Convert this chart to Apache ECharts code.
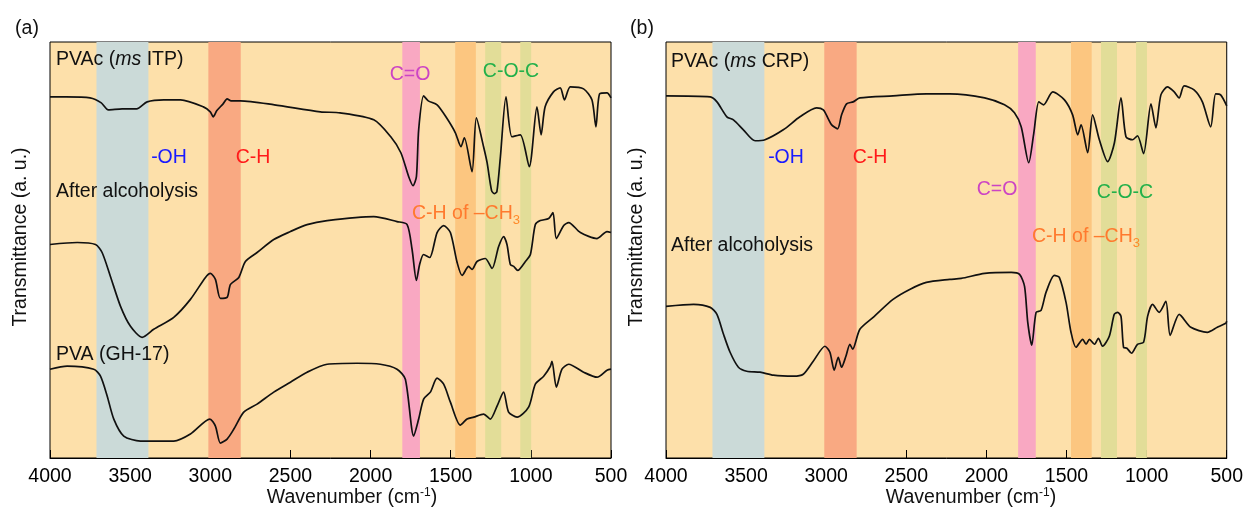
<!DOCTYPE html>
<html>
<head>
<meta charset="utf-8">
<script src="https://cdn.jsdelivr.net/npm/echarts@6/dist/echarts.min.js"></script>
<style>
html,body{margin:0;padding:0;background:#fff;}
#chart{width:1246px;height:509px;}
</style>
</head>
<body>
<div id="chart"></div>
<script>
// 吸收带范围 (cm-1)
var bandFrom = [3710, 3012, 1802, 1472, 1285, 1066];
var bandTo = [3386, 2810, 1692, 1343, 1185, 998];

// (a) PVAc (ms ITP)
var itpPVAc = [[4000,362],[3900,362],[3750,361],[3680,356],[3636,349],[3550,350],[3460,350],[3394,357],
    [3290,359],[3185,359],[3043,352],[3000,347],[2982,342],[2960,348],[2920,355],[2895,360],[2870,358],
    [2812,358],[2600,354],[2313,347],[2190,346],[1980,339],[1874,322],[1811,306],[1762,282],[1735,273],
    [1714,282],[1700,329],[1669,363],[1640,358],[1585,354],[1530,342],[1471,326],[1436,312],[1415,321],
    [1367,287],[1340,341],[1295,312],[1273,296],[1245,268],[1228,265],[1212,267],[1190,302],[1155,362],
    [1118,322],[1066,324],[1010,292],[962,352],[936,324],[911,352],[859,367],[817,371],[790,359],[754,372],
    [671,370],[619,359],[594,332],[571,365],[525,366],[500,361]];
// (a) After alcoholysis
var itpAlc = [[4000,214],[3830,216],[3716,214],[3675,206],[3623,182],[3560,152],[3498,132],[3425,121],
    [3353,129],[3228,141],[3124,159],[3030,181],[2999,185],[2968,179],[2937,160],[2895,161],[2874,174],
    [2822,181],[2781,197],[2708,206],[2604,219],[2500,227],[2396,234],[2271,238],[1980,242],[1835,237],
    [1772,234],[1741,209],[1714,178],[1694,194],[1669,204],[1631,201],[1585,226],[1544,233],[1502,226],
    [1460,196],[1429,183],[1388,192],[1367,189],[1336,197],[1284,200],[1242,190],[1201,212],[1170,222],
    [1149,214],[1128,194],[1107,192],[1082,188],[1034,197],[1003,204],[972,234],[941,238],[889,240],
    [862,246],[841,220],[795,233],[764,236],[691,226],[587,220],[525,227],[500,226]];
// (a) PVA (GH-17)
var pvaGH17 = [[4000,89],[3893,92],[3727,89],[3685,82],[3643,62],[3602,39],[3540,22],[3436,17],
    [3228,17],[3124,24],[3003,39],[2968,32],[2937,15],[2895,19],[2853,29],[2791,46],[2708,54],[2604,66],
    [2500,76],[2396,86],[2271,94],[2084,95],[1939,94],[1835,89],[1783,79],[1731,22],[1700,39],[1669,59],
    [1627,66],[1585,80],[1544,74],[1502,56],[1440,33],[1398,39],[1356,41],[1295,44],[1253,39],[1211,52],
    [1170,66],[1139,46],[1086,41],[1014,51],[972,74],[920,82],[878,92],[868,97],[841,71],[806,89],
    [764,94],[671,86],[587,81],[525,88],[500,89]];
// (b) PVAc (ms CRP)
var crpPVAc = [[4000,363],[3724,362],[3682,357],[3620,342],[3579,339],[3517,329],[3444,318],[3382,319],
    [3268,329],[3164,342],[3060,351],[3018,349],[2987,340],[2966,334],[2929,330],[2904,344],[2873,355],
    [2832,357],[2790,361],[2583,363],[2375,365],[2229,365],[2011,361],[1887,354],[1825,346],[1783,332],
    [1736,296],[1704,326],[1673,357],[1644,354],[1586,367],[1513,359],[1462,344],[1430,324],[1409,334],
    [1368,306],[1337,344],[1295,319],[1243,297],[1201,316],[1160,361],[1129,322],[1088,319],[1057,323],
    [1019,305],[973,355],[942,331],[911,364],[870,372],[828,367],[797,361],[766,373],[704,369],[652,357],
    [600,332],[569,365],[538,364],[500,353]];
// (b) After alcoholysis
var crpAlc = [[4000,152],[3828,154],[3724,151],[3682,144],[3641,124],[3600,106],[3548,91],[3496,87],
    [3413,86],[3330,83],[3205,82],[3143,84],[3081,97],[3008,112],[2977,106],[2950,88],[2925,101],
    [2904,91],[2877,102],[2852,114],[2835,109],[2790,129],[2707,141],[2583,159],[2479,169],[2375,176],
    [2229,179],[2157,180],[2011,185],[1845,186],[1793,184],[1762,172],[1742,136],[1717,113],[1690,146],
    [1659,148],[1628,166],[1576,183],[1545,181],[1503,156],[1472,126],[1441,111],[1399,119],[1378,114],
    [1357,119],[1326,114],[1301,120],[1275,112],[1233,122],[1202,144],[1181,146],[1160,142],[1144,111],
    [1123,110],[1094,105],[1057,114],[1019,116],[994,142],[963,154],[922,146],[880,157],[853,123],
    [797,144],[724,131],[621,126],[559,131],[506,135],[500,137]];

var FONT = "'Liberation Sans', Arial, sans-serif";
var FS = 19.5;
var bandColors = ['#cbdad8', '#f9a982', '#f9a8c2', '#fcc680', '#e2dd98', '#e2dd98'];

function bandAreas(){
    var areas = [];
    for(var i = 0;i<bandFrom.length;i++){
        areas.push([{xAxis: bandFrom[i], itemStyle: {color: bandColors[i], opacity: 1}}, {xAxis: bandTo[i]}]);
    }
    return areas;
}

function makeX(idx){
    return {
        gridIndex: idx,
        type: 'value',
        min: 500,
        max: 4000,
        interval: 500,
        inverse: true,
        axisLine: {lineStyle: {color: '#000', width: 1}},
        axisTick: {inside: true, length: 8, lineStyle: {color: '#000'}},
        axisLabel: {color: '#000', fontSize: FS, fontFamily: FONT, margin: 9,
            showMinLabel: true, showMaxLabel: true,
            formatter: function(v){ return String(v); }},
        splitLine: {show: false}
    };
}
function makeY(idx){
    return {
        gridIndex: idx,
        type: 'value',
        min: 0,
        max: 417,
        axisLine: {show: false},
        axisTick: {show: false},
        axisLabel: {show: false},
        splitLine: {show: false}
    };
}
function spectrum(idx, data){
    return {
        type: 'line',
        xAxisIndex: idx,
        yAxisIndex: idx,
        data: data,
        showSymbol: false,
        smooth: 0.25,
        z: 5,
        lineStyle: {color: '#111', width: 1.7}
    };
}
function bandSeries(idx){
    return {
        type: 'line',
        xAxisIndex: idx,
        yAxisIndex: idx,
        data: [],
        z: 1,
        silent: true,
        markArea: {silent: true, data: bandAreas()}
    };
}

function txt(x, y, text, color, align, rich){
    var st = {text: text, fill: color, fontSize: FS, fontFamily: FONT,
        textAlign: align || 'center', textVerticalAlign: 'middle'};
    if(rich){ st.rich = rich; }
    return {type: 'text', x: x, y: y, z: 100, style: st};
}
var richNames = {
    it: {fontStyle: 'italic', fontSize: FS, fontFamily: FONT, fill: '#111'},
    sup: {fontSize: 12, fontFamily: FONT, fill: '#111', verticalAlign: 'top', lineHeight: 22},
    sub: {fontSize: 13, fontFamily: FONT, fill: '#ff8a2a', verticalAlign: 'bottom', lineHeight: 26},
    o: {fontSize: FS, fontFamily: FONT, fill: '#ff7a2e', lineHeight: 22}
};

var chart = echarts.init(document.getElementById('chart'));
var option = {
    backgroundColor: '#fff',
    animation: false,
    grid: [
        {left: 50, top: 42, width: 561, height: 416, show: true, backgroundColor: '#fde0aa', borderColor: '#000', borderWidth: 1},
        {left: 666, top: 42, width: 562, height: 416, show: true, backgroundColor: '#fde0aa', borderColor: '#000', borderWidth: 1}
    ],
    xAxis: [makeX(0), makeX(1)],
    yAxis: [makeY(0), makeY(1)],
    series: [
        bandSeries(0),
        bandSeries(1),
        spectrum(0, itpPVAc),
        spectrum(0, itpAlc),
        spectrum(0, pvaGH17),
        spectrum(1, crpPVAc),
        spectrum(1, crpAlc)
    ],
    graphic: [
        txt(27, 29, '(a)', '#111'),
        txt(642, 29, '(b)', '#111'),
        // (a) 注释
        txt(56, 60, 'PVAc ({it|ms} ITP)', '#111', 'left', richNames),
        txt(169, 158, '-OH', '#1a1aff'),
        txt(253, 158, 'C-H', '#ff1a1a'),
        txt(56, 192, 'After alcoholysis', '#111', 'left'),
        txt(410, 75, 'C=O', '#cc44c4'),
        txt(511, 72, 'C-O-C', '#22b04a'),
        txt(466, 214, '{o|C-H of \u2013CH}{sub|3}', '#ff7a2e', 'center', richNames),
        txt(56, 355, 'PVA (GH-17)', '#111', 'left'),
        // (b) 注释
        txt(671, 62, 'PVAc ({it|ms} CRP)', '#111', 'left', richNames),
        txt(786, 158, '-OH', '#1a1aff'),
        txt(870, 158, 'C-H', '#ff1a1a'),
        txt(671, 246, 'After alcoholysis', '#111', 'left'),
        txt(997, 190, 'C=O', '#cc44c4'),
        txt(1125, 193, 'C-O-C', '#22b04a'),
        txt(1086, 237, '{o|C-H of \u2013CH}{sub|3}', '#ff7a2e', 'center', richNames),
        // 坐标轴名称
        txt(352, 498, 'Wavenumber (cm{sup|-1})', '#111', 'center', richNames),
        txt(971, 498, 'Wavenumber (cm{sup|-1})', '#111', 'center', richNames),
        {type: 'text', x: 21, y: 237, rotation: Math.PI / 2, z: 100,
            style: {text: 'Transmittance (a. u.)', fill: '#111', fontSize: FS, fontFamily: FONT,
                textAlign: 'center', textVerticalAlign: 'middle'}},
        {type: 'text', x: 637, y: 237, rotation: Math.PI / 2, z: 100,
            style: {text: 'Transmittance (a. u.)', fill: '#111', fontSize: FS, fontFamily: FONT,
                textAlign: 'center', textVerticalAlign: 'middle'}}
    ]
};
chart.setOption(option);
</script>
</body>
</html>
